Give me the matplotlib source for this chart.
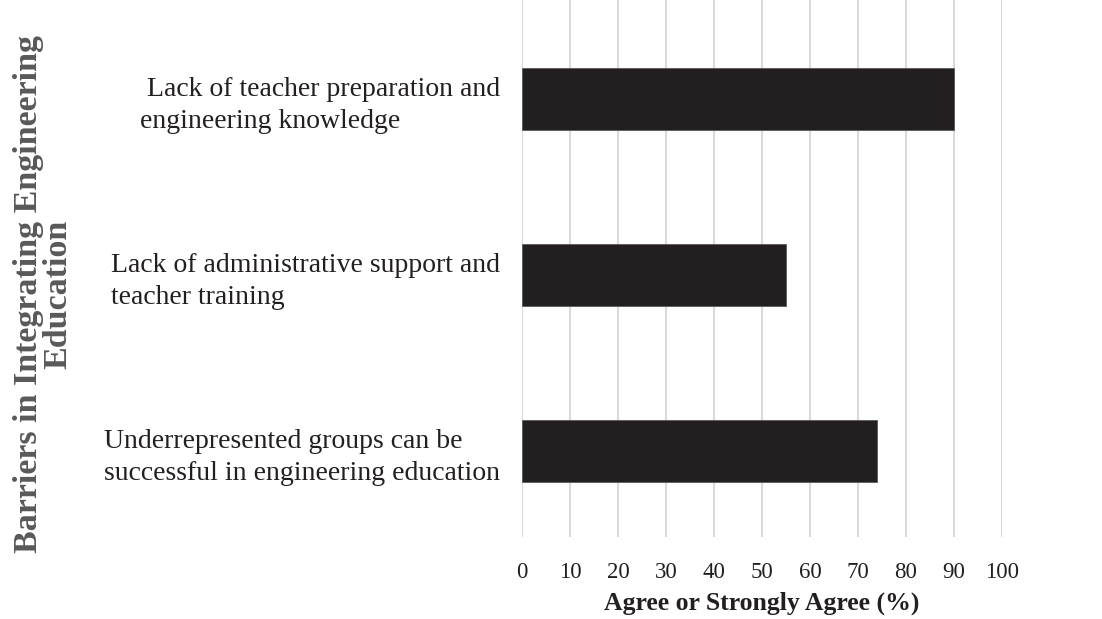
import matplotlib.pyplot as plt

# barriers (top to bottom as shown) and share agreeing
barriers = [
    ' Lack of teacher preparation and\nengineering knowledge',
    'Lack of administrative support and\nteacher training',
    'Underrepresented groups can be\nsuccessful in engineering education',
]
agree_pct = [90, 55, 74]
x_ticks = [0, 10, 20, 30, 40, 50, 60, 70, 80, 90, 100]

plt.rcParams['font.family'] = ['Liberation Serif', 'DejaVu Serif']

fig = plt.figure(figsize=(11.02, 6.19), dpi=100)
ax = fig.add_axes([0.4737, 0.1325, 0.4355, 0.8675])

pos = list(range(len(barriers)))
ax.barh(pos, agree_pct, height=0.35, color='#231f20', edgecolor='#5a5a5a',
        linewidth=0.6, zorder=3)

ax.set_xlim(0, 100)
ax.set_ylim(2.489, -0.5625)
ax.set_xticks(x_ticks)
ax.set_yticks(pos)
ax.set_yticklabels(barriers, multialignment='left', linespacing=1.35)
ax.tick_params(axis='y', length=0, pad=16, labelsize=20, labelcolor='#231f20')
ax.tick_params(axis='x', length=0, pad=18, labelsize=16.5, labelcolor='#231f20')

ax.grid(axis='x', color='#d9d9d9', linewidth=1.5, zorder=0)
for s in ax.spines.values():
    s.set_visible(False)

ax.set_xlabel('Agree or Strongly Agree (%)', fontsize=18.5, fontweight='bold',
              color='#231f20', labelpad=6)
fig.text(0.039, 0.525, 'Barriers in Integrating Engineering\nEducation',
         rotation=90, ha='center', va='center', fontsize=24.5, linespacing=0.95,
         fontweight='bold', color='#595959', multialignment='center')

plt.savefig('out.png', dpi=100)
